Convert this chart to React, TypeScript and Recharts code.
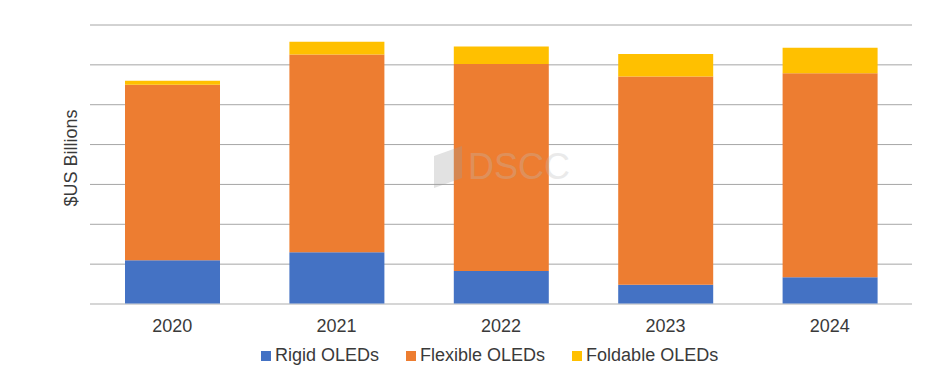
import React from 'react';
import { BarChart, Bar, XAxis, YAxis, CartesianGrid } from 'recharts';

const years = ['2020', '2021', '2022', '2023', '2024'];
const rigid = [5.5, 6.5, 4.15, 2.4, 3.35];
const flexible = [22.0, 24.8, 25.95, 26.15, 25.6];
const foldable = [0.5, 1.6, 2.2, 2.8, 3.2];
const yTicks = [5, 10, 15, 20, 25, 30, 35];
const seriesNames = ['Rigid OLEDs', 'Flexible OLEDs', 'Foldable OLEDs'];
const seriesKeys = ['rigid', 'flexible', 'foldable'];
const seriesColors = ['#4472C4', '#ED7D31', '#FFC000'];

const data = years.map((y, i) => ({
  year: y,
  rigid: rigid[i],
  flexible: flexible[i],
  foldable: foldable[i],
}));

const FONT = '"Liberation Sans", Arial, sans-serif';
const TEXT = '#3a3a3a';

const YLabel = () => (
  <text
    x={70.5}
    y={158}
    transform="rotate(-90, 70.5, 158)"
    textAnchor="middle"
    dominantBaseline="central"
    fontSize={18}
    fontFamily={FONT}
    fill={TEXT}
  >
    $US Billions
  </text>
);

const NoTick = () => <g />;

export default function App() {
  return (
    <div style={{ position: 'absolute', left: 0, top: 0, width: 934, height: 387, background: '#fff' }}>
      <BarChart
        width={934}
        height={387}
        data={data}
        margin={{ top: 25, right: 22, bottom: 53, left: 0 }}
      >
        <CartesianGrid horizontal vertical={false} stroke="#a6a6a6" strokeWidth={1} />
        <YAxis
          width={90}
          domain={[0, 35]}
          ticks={yTicks}
          tick={<NoTick />}
          axisLine={false}
          tickLine={false}
          label={<YLabel />}
        />
        <XAxis
          dataKey="year"
          height={30}
          axisLine={{ stroke: '#d9d9d9' }}
          tickLine={false}
          tickSize={0}
          tickMargin={15}
          tick={{ fontSize: 18, fontFamily: FONT, fill: TEXT }}
        />
        {seriesKeys.map((k, i) => (
          <Bar
            key={k}
            dataKey={k}
            name={seriesNames[i]}
            stackId="a"
            fill={seriesColors[i]}
            barSize={95}
            isAnimationActive={false}
          />
        ))}
      </BarChart>
      <div
        style={{
          position: 'absolute',
          left: 434,
          top: 146,
          fontFamily: FONT,
          fontSize: 36,
          color: '#bdbdbd',
          opacity: 0.3,
          pointerEvents: 'none',
          display: 'flex',
          alignItems: 'center',
        }}
      >
        <div style={{ width: 28, height: 32, background: '#a0a0a0', marginRight: 6, transform: 'skewY(-20deg)' }} />
        <span>DSCC</span>
      </div>
      <div
        style={{
          position: 'absolute',
          left: 261,
          top: 345,
          display: 'flex',
          alignItems: 'center',
          fontFamily: FONT,
          fontSize: 18,
          color: TEXT,
          whiteSpace: 'nowrap',
        }}
      >
        {seriesNames.map((n, i) => (
          <div key={n} style={{ display: 'flex', alignItems: 'center', marginRight: i < 2 ? 27 : 0 }}>
            <div style={{ width: 10, height: 10, background: seriesColors[i], marginRight: 4 }} />
            <span>{n}</span>
          </div>
        ))}
      </div>
    </div>
  );
}
